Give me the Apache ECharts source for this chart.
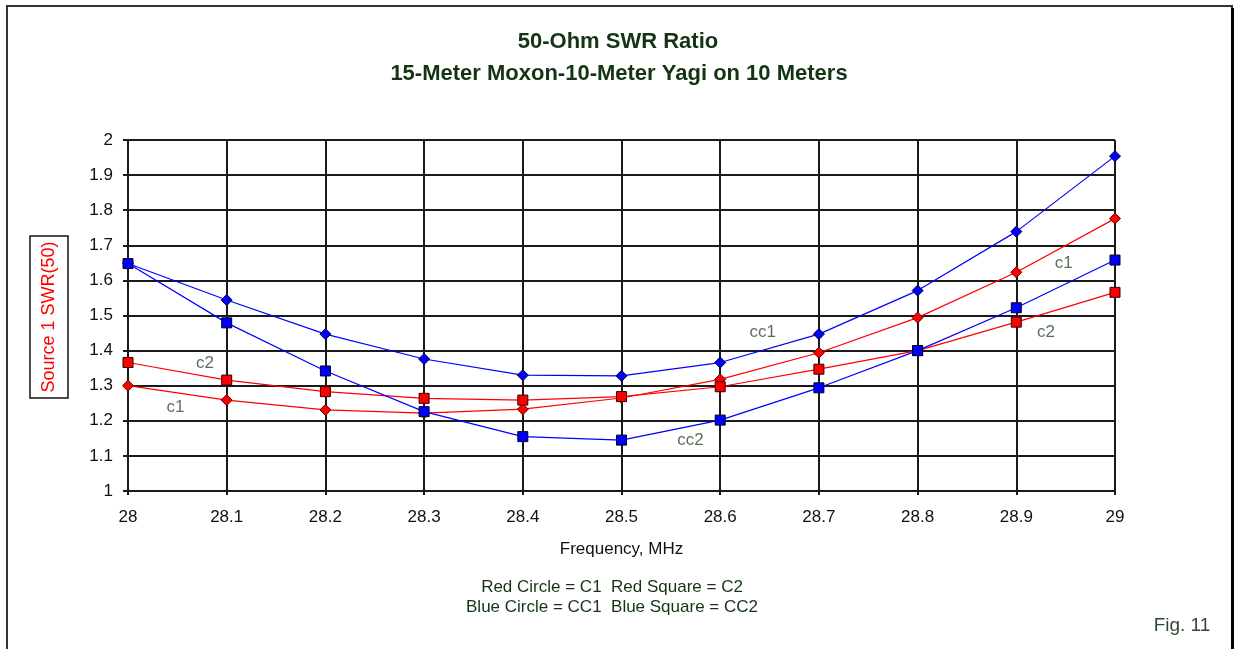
<!DOCTYPE html>
<html>
<head>
<meta charset="utf-8">
<title>50-Ohm SWR Ratio</title>
<script src="https://cdn.jsdelivr.net/npm/echarts@6/dist/echarts.min.js"></script>
<style>
  html, body { margin: 0; padding: 0; background: #fff; }
  #chart { width: 1236px; height: 649px; }
</style>
</head>
<body>
<div id="chart"></div>
<script>
// Frequency points (MHz)
const freqs = [28, 28.1, 28.2, 28.3, 28.4, 28.5, 28.6, 28.7, 28.8, 28.9, 29];

// SWR (50 ohm) for each antenna configuration
const c1  = [1.300, 1.259, 1.231, 1.222, 1.233, 1.265, 1.318, 1.394, 1.494, 1.623, 1.776];
const c2  = [1.366, 1.316, 1.283, 1.264, 1.259, 1.269, 1.297, 1.347, 1.400, 1.481, 1.566];
const cc1 = [1.648, 1.544, 1.447, 1.376, 1.330, 1.328, 1.366, 1.447, 1.571, 1.739, 1.954];
const cc2 = [1.648, 1.479, 1.342, 1.226, 1.155, 1.145, 1.202, 1.294, 1.400, 1.522, 1.658];

// Curve tags placed beside the lines (frequency, SWR)
const tagNames = ['c2', 'c1', 'cc1', 'cc2', 'c1', 'c2'];
const tagFreqs = [28.078, 28.048, 28.643, 28.570, 28.948, 28.930];
const tagSwr   = [1.365, 1.239, 1.453, 1.145, 1.650, 1.453];

const FONT = "'Liberation Sans', Arial, sans-serif";
const GREEN = '#143414';

const pairs = ys => freqs.map((f, i) => [f, ys[i]]);

function lineSeries(name, ys, color, symbol, size, border) {
  return {
    name, type: 'line', data: pairs(ys),
    symbol, symbolSize: size,
    lineStyle: { color, width: 1.2 },
    itemStyle: { color, borderColor: border, borderWidth: 1 },
    z: symbol === 'rect' ? 4 : 3,
    animation: false
  };
}

const chart = echarts.init(document.getElementById('chart'), null, { renderer: 'canvas' });

chart.setOption({
  backgroundColor: '#fff',
  animation: false,
  grid: { left: 128, right: 121, top: 140, bottom: 158 },
  xAxis: {
    type: 'value', min: 28, max: 29, interval: 0.1,
    name: 'Frequency, MHz', nameLocation: 'middle', nameGap: 50,
    nameTextStyle: { color: '#111', fontFamily: FONT, fontSize: 17 },
    axisLine: { show: true, lineStyle: { color: '#1a1a1a', width: 2 } },
    axisTick: { show: true, length: 4, lineStyle: { color: '#1a1a1a', width: 2 } },
    axisLabel: {
      color: '#111', fontFamily: FONT, fontSize: 17, margin: 18,
      formatter: v => String(+v.toFixed(1))
    },
    splitLine: { show: true, lineStyle: { color: '#1a1a1a', width: 2 } }
  },
  yAxis: {
    type: 'value', min: 1, max: 2, interval: 0.1,
    axisLine: { show: true, lineStyle: { color: '#1a1a1a', width: 2 } },
    axisTick: { show: true, length: 5, lineStyle: { color: '#1a1a1a', width: 2 } },
    axisLabel: {
      color: '#111', fontFamily: FONT, fontSize: 17, margin: 15,
      formatter: v => String(+v.toFixed(1))
    },
    splitLine: { show: true, lineStyle: { color: '#1a1a1a', width: 2 } }
  },
  series: [
    lineSeries('C1', c1, '#ff0000', 'diamond', 11, '#5a0000'),
    lineSeries('C2', c2, '#ff0000', 'rect', 10, '#300000'),
    lineSeries('CC1', cc1, '#0000ff', 'diamond', 11, '#00003a'),
    lineSeries('CC2', cc2, '#0000ff', 'rect', 10, '#000020'),
    {
      type: 'scatter', symbolSize: 0, z: 5, silent: true,
      data: tagNames.map((n, i) => ({ name: n, value: [tagFreqs[i], tagSwr[i]] })),
      label: {
        show: true, position: 'inside', formatter: p => p.name,
        color: '#2f4a2f', fontFamily: FONT, fontSize: 17
      }
    }
  ],
  graphic: [
    // outer frame
    { type: 'rect', shape: { x: 7, y: 6, width: 1225, height: 660 },
      style: { fill: null, stroke: '#333', lineWidth: 2 }, silent: true },
    { type: 'rect', shape: { x: 1231, y: 8, width: 3, height: 660 },
      style: { fill: '#000' }, silent: true },
    // titles
    { type: 'text', x: 618, y: 42,
      style: { text: '50-Ohm SWR Ratio', fill: GREEN, align: 'center', verticalAlign: 'middle',
        font: "bold 22px 'Liberation Sans', Arial, sans-serif" } },
    { type: 'text', x: 619, y: 74,
      style: { text: '15-Meter Moxon-10-Meter Yagi on 10 Meters', fill: GREEN, align: 'center',
        verticalAlign: 'middle', font: "bold 22px 'Liberation Sans', Arial, sans-serif" } },
    // y-axis title in a box
    { type: 'group', x: 49, y: 317, rotation: Math.PI / 2, children: [
      { type: 'rect', shape: { x: -81, y: -19, width: 162, height: 38 },
        style: { fill: '#fff', stroke: '#111', lineWidth: 1.5 } },
      { type: 'text', x: 0, y: 0,
        style: { text: 'Source 1 SWR(50)', fill: '#ff0000', align: 'center',
          verticalAlign: 'middle', font: '18px ' + FONT } }
    ] },
    // symbol key
    { type: 'text', x: 612, y: 587,
      style: { text: 'Red Circle = C1  Red Square = C2', fill: GREEN, align: 'center',
        verticalAlign: 'middle', font: '17px ' + FONT } },
    { type: 'text', x: 612, y: 607,
      style: { text: 'Blue Circle = CC1  Blue Square = CC2', fill: GREEN, align: 'center',
        verticalAlign: 'middle', font: '17px ' + FONT } },
    { type: 'text', x: 1182, y: 626,
      style: { text: 'Fig. 11', fill: '#2f4a2f', align: 'center',
        verticalAlign: 'middle', font: '19px ' + FONT } }
  ]
});
</script>
</body>
</html>
